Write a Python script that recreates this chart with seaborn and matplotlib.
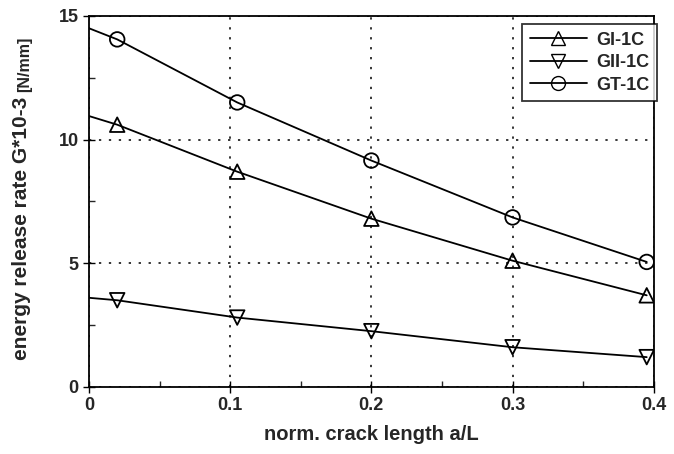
import matplotlib
matplotlib.use("Agg")
import matplotlib.pyplot as plt
from matplotlib.lines import Line2D
from matplotlib.ticker import MultipleLocator, FuncFormatter
import seaborn as sns
import pandas as pd

sns.set_style("white")
plt.rcParams['font.family'] = ['Liberation Sans', 'DejaVu Sans']
plt.rcParams['font.weight'] = 'bold'

# crack length a/L (first point only starts the line, no marker)
crack_len = [0.0, 0.02, 0.105, 0.2, 0.3, 0.395]
g_i = [10.95, 10.6, 8.7, 6.8, 5.1, 3.7]
g_ii = [3.6, 3.5, 2.8, 2.25, 1.6, 1.2]
g_t = [14.5, 14.05, 11.5, 9.15, 6.85, 5.05]

series = ["GI-1C", "GII-1C", "GT-1C"]
markers = {"GI-1C": "^", "GII-1C": "v", "GT-1C": "o"}

df = pd.DataFrame({
    "a/L": crack_len * 3,
    "G": g_i + g_ii + g_t,
    "case": [s for s in series for _ in crack_len],
})

fig = plt.figure(figsize=(6.74, 4.54), dpi=100)
ax = fig.add_axes([0.132, 0.148, 0.838, 0.817])

for s in series:
    d = df[df.case == s]
    sns.lineplot(x="a/L", y="G", data=d, ax=ax, color="black", linewidth=1.3,
                 legend=False)
    pts = d[d["a/L"] > 0]
    sns.scatterplot(x="a/L", y="G", data=pts, ax=ax, marker=markers[s],
                    s=110, facecolor="none", edgecolor="black", linewidth=1.3,
                    legend=False, zorder=3)

ax.set_xlim(0, 0.4)
ax.set_ylim(0, 15)
ax.xaxis.set_major_locator(MultipleLocator(0.1))
ax.xaxis.set_minor_locator(MultipleLocator(0.05))
ax.yaxis.set_major_locator(MultipleLocator(5))
ax.yaxis.set_minor_locator(MultipleLocator(2.5))
ax.xaxis.set_major_formatter(FuncFormatter(lambda v, p: "0" if abs(v) < 1e-9 else f"{v:.1f}"))
ax.yaxis.set_major_formatter(FuncFormatter(lambda v, p: f"{v:.0f}"))
ax.tick_params(which="major", direction="inout", length=8, width=1,
               labelsize=13, color="black", bottom=True, left=True)
ax.tick_params(which="minor", direction="in", length=4, width=1,
               bottom=True, left=True)
for lbl in ax.get_xticklabels() + ax.get_yticklabels():
    lbl.set_fontweight("bold")

ax.grid(True, which="major", linestyle=(0, (1.5, 5)), color="black",
        linewidth=1.1)
for sp in ax.spines.values():
    sp.set_color("black")
    sp.set_linewidth(1.3)

ax.set_xlabel("norm. crack length a/L", fontsize=14.5, fontweight="bold",
              labelpad=8)
ax.set_ylabel("")
fig.text(22 / 674, 1 - 360 / 454, "energy release rate G*10-3",
         rotation=90, ha="center", va="bottom", fontsize=15,
         fontweight="bold")
fig.text(25 / 674, 1 - 92 / 454, "[N/mm]", rotation=90, ha="center",
         va="bottom", fontsize=11.5, fontweight="bold")

handles = [Line2D([], [], color="black", linewidth=1.3, marker=markers[s],
                  markersize=10, markerfacecolor="none",
                  markeredgecolor="black") for s in series]
leg = fig.legend(handles, series, loc="upper right",
                 bbox_to_anchor=(0.988, 0.966), frameon=True, fancybox=False,
                 fontsize=13, handlelength=3.2, borderpad=0.4,
                 labelspacing=0.3, handletextpad=0.5)
leg.get_frame().set_edgecolor("black")
leg.get_frame().set_linewidth(1.3)
for t in leg.get_texts():
    t.set_fontweight("bold")

plt.savefig("out.png", dpi=100)
